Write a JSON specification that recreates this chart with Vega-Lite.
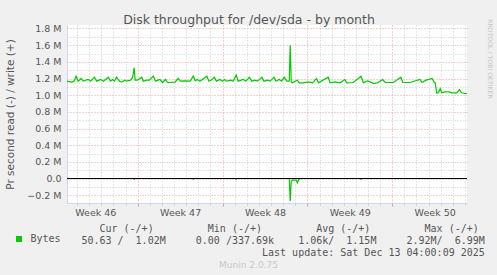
{
  "$schema": "https://vega.github.io/schema/vega-lite/v6.json",
  "width": 400,
  "height": 178,
  "autosize": "none",
  "padding": {"left": 67, "top": 25, "right": 30, "bottom": 72},
  "background": "#f0f0f0",
  "config": {
    "view": {"fill": "#ffffff", "stroke": null},
    "font": "DejaVu Sans",
    "axis": {"labelFont": "DejaVu Sans", "titleFont": "DejaVu Sans", "titleFontWeight": "normal", "labelColor": "#555555", "titleColor": "#555555"}
  },
  "data": {
    "values": [
      {"time": "2025-11-10T04:00", "dir": "write", "bytes": 1168000},
      {"time": "2025-11-10T13:00", "dir": "write", "bytes": 1156000},
      {"time": "2025-11-10T18:00", "dir": "write", "bytes": 1168000},
      {"time": "2025-11-10T22:00", "dir": "write", "bytes": 1228000},
      {"time": "2025-11-11T02:00", "dir": "write", "bytes": 1168000},
      {"time": "2025-11-11T08:00", "dir": "write", "bytes": 1200000},
      {"time": "2025-11-11T12:00", "dir": "write", "bytes": 1168000},
      {"time": "2025-11-11T22:00", "dir": "write", "bytes": 1188000},
      {"time": "2025-11-12T03:00", "dir": "write", "bytes": 1168000},
      {"time": "2025-11-12T10:00", "dir": "write", "bytes": 1216000},
      {"time": "2025-11-12T15:00", "dir": "write", "bytes": 1168000},
      {"time": "2025-11-12T23:00", "dir": "write", "bytes": 1188000},
      {"time": "2025-11-13T04:00", "dir": "write", "bytes": 1168000},
      {"time": "2025-11-13T14:00", "dir": "write", "bytes": 1216000},
      {"time": "2025-11-13T18:00", "dir": "write", "bytes": 1168000},
      {"time": "2025-11-13T22:00", "dir": "write", "bytes": 1188000},
      {"time": "2025-11-14T02:00", "dir": "write", "bytes": 1168000},
      {"time": "2025-11-14T06:00", "dir": "write", "bytes": 1216000},
      {"time": "2025-11-14T12:00", "dir": "write", "bytes": 1168000},
      {"time": "2025-11-14T16:00", "dir": "write", "bytes": 1156000},
      {"time": "2025-11-14T22:00", "dir": "write", "bytes": 1180000},
      {"time": "2025-11-15T02:00", "dir": "write", "bytes": 1168000},
      {"time": "2025-11-15T10:00", "dir": "write", "bytes": 1180000},
      {"time": "2025-11-15T14:00", "dir": "write", "bytes": 1216000},
      {"time": "2025-11-15T17:00", "dir": "write", "bytes": 1328000},
      {"time": "2025-11-15T19:00", "dir": "write", "bytes": 1180000},
      {"time": "2025-11-15T23:00", "dir": "write", "bytes": 1180000},
      {"time": "2025-11-16T08:00", "dir": "write", "bytes": 1216000},
      {"time": "2025-11-16T11:00", "dir": "write", "bytes": 1168000},
      {"time": "2025-11-16T18:00", "dir": "write", "bytes": 1180000},
      {"time": "2025-11-16T23:00", "dir": "write", "bytes": 1180000},
      {"time": "2025-11-17T07:00", "dir": "write", "bytes": 1228000},
      {"time": "2025-11-17T11:00", "dir": "write", "bytes": 1168000},
      {"time": "2025-11-17T20:00", "dir": "write", "bytes": 1188000},
      {"time": "2025-11-18T01:00", "dir": "write", "bytes": 1152000},
      {"time": "2025-11-18T07:00", "dir": "write", "bytes": 1188000},
      {"time": "2025-11-18T11:00", "dir": "write", "bytes": 1152000},
      {"time": "2025-11-18T16:00", "dir": "write", "bytes": 1152000},
      {"time": "2025-11-19T02:00", "dir": "write", "bytes": 1156000},
      {"time": "2025-11-19T08:00", "dir": "write", "bytes": 1200000},
      {"time": "2025-11-19T13:00", "dir": "write", "bytes": 1168000},
      {"time": "2025-11-19T20:00", "dir": "write", "bytes": 1172000},
      {"time": "2025-11-20T08:00", "dir": "write", "bytes": 1168000},
      {"time": "2025-11-20T14:00", "dir": "write", "bytes": 1228000},
      {"time": "2025-11-20T18:00", "dir": "write", "bytes": 1172000},
      {"time": "2025-11-20T22:00", "dir": "write", "bytes": 1188000},
      {"time": "2025-11-21T03:00", "dir": "write", "bytes": 1168000},
      {"time": "2025-11-21T17:00", "dir": "write", "bytes": 1228000},
      {"time": "2025-11-21T21:00", "dir": "write", "bytes": 1168000},
      {"time": "2025-11-22T01:00", "dir": "write", "bytes": 1180000},
      {"time": "2025-11-22T08:00", "dir": "write", "bytes": 1216000},
      {"time": "2025-11-22T12:00", "dir": "write", "bytes": 1168000},
      {"time": "2025-11-22T19:00", "dir": "write", "bytes": 1188000},
      {"time": "2025-11-23T00:00", "dir": "write", "bytes": 1168000},
      {"time": "2025-11-23T04:00", "dir": "write", "bytes": 1188000},
      {"time": "2025-11-23T08:00", "dir": "write", "bytes": 1168000},
      {"time": "2025-11-23T17:00", "dir": "write", "bytes": 1180000},
      {"time": "2025-11-23T21:00", "dir": "write", "bytes": 1168000},
      {"time": "2025-11-24T03:00", "dir": "write", "bytes": 1240000},
      {"time": "2025-11-24T07:00", "dir": "write", "bytes": 1168000},
      {"time": "2025-11-24T17:00", "dir": "write", "bytes": 1188000},
      {"time": "2025-11-24T22:00", "dir": "write", "bytes": 1168000},
      {"time": "2025-11-25T05:00", "dir": "write", "bytes": 1216000},
      {"time": "2025-11-25T10:00", "dir": "write", "bytes": 1168000},
      {"time": "2025-11-25T16:00", "dir": "write", "bytes": 1180000},
      {"time": "2025-11-25T21:00", "dir": "write", "bytes": 1168000},
      {"time": "2025-11-26T06:00", "dir": "write", "bytes": 1216000},
      {"time": "2025-11-26T10:00", "dir": "write", "bytes": 1168000},
      {"time": "2025-11-26T17:00", "dir": "write", "bytes": 1180000},
      {"time": "2025-11-26T22:00", "dir": "write", "bytes": 1168000},
      {"time": "2025-11-27T06:00", "dir": "write", "bytes": 1216000},
      {"time": "2025-11-27T10:00", "dir": "write", "bytes": 1168000},
      {"time": "2025-11-27T16:00", "dir": "write", "bytes": 1188000},
      {"time": "2025-11-27T21:00", "dir": "write", "bytes": 1168000},
      {"time": "2025-11-28T02:00", "dir": "write", "bytes": 1216000},
      {"time": "2025-11-28T07:00", "dir": "write", "bytes": 1168000},
      {"time": "2025-11-28T12:00", "dir": "write", "bytes": 1168000},
      {"time": "2025-11-28T14:00", "dir": "write", "bytes": 1600000},
      {"time": "2025-11-28T16:00", "dir": "write", "bytes": 1160000},
      {"time": "2025-11-28T18:00", "dir": "write", "bytes": 1148000},
      {"time": "2025-11-29T04:00", "dir": "write", "bytes": 1180000},
      {"time": "2025-11-29T08:00", "dir": "write", "bytes": 1148000},
      {"time": "2025-11-29T16:00", "dir": "write", "bytes": 1148000},
      {"time": "2025-11-30T02:00", "dir": "write", "bytes": 1160000},
      {"time": "2025-11-30T10:00", "dir": "write", "bytes": 1148000},
      {"time": "2025-11-30T18:00", "dir": "write", "bytes": 1200000},
      {"time": "2025-11-30T22:00", "dir": "write", "bytes": 1148000},
      {"time": "2025-12-01T17:00", "dir": "write", "bytes": 1216000},
      {"time": "2025-12-01T21:00", "dir": "write", "bytes": 1148000},
      {"time": "2025-12-02T07:00", "dir": "write", "bytes": 1160000},
      {"time": "2025-12-02T17:00", "dir": "write", "bytes": 1148000},
      {"time": "2025-12-03T02:00", "dir": "write", "bytes": 1188000},
      {"time": "2025-12-03T06:00", "dir": "write", "bytes": 1148000},
      {"time": "2025-12-03T19:00", "dir": "write", "bytes": 1152000},
      {"time": "2025-12-04T10:00", "dir": "write", "bytes": 1228000},
      {"time": "2025-12-04T15:00", "dir": "write", "bytes": 1148000},
      {"time": "2025-12-04T23:00", "dir": "write", "bytes": 1172000},
      {"time": "2025-12-05T12:00", "dir": "write", "bytes": 1140000},
      {"time": "2025-12-05T20:00", "dir": "write", "bytes": 1152000},
      {"time": "2025-12-06T05:00", "dir": "write", "bytes": 1188000},
      {"time": "2025-12-06T10:00", "dir": "write", "bytes": 1152000},
      {"time": "2025-12-07T02:00", "dir": "write", "bytes": 1152000},
      {"time": "2025-12-07T17:00", "dir": "write", "bytes": 1216000},
      {"time": "2025-12-07T21:00", "dir": "write", "bytes": 1152000},
      {"time": "2025-12-08T11:00", "dir": "write", "bytes": 1152000},
      {"time": "2025-12-09T07:00", "dir": "write", "bytes": 1188000},
      {"time": "2025-12-09T11:00", "dir": "write", "bytes": 1152000},
      {"time": "2025-12-09T19:00", "dir": "write", "bytes": 1180000},
      {"time": "2025-12-10T07:00", "dir": "write", "bytes": 1200000},
      {"time": "2025-12-10T11:00", "dir": "write", "bytes": 1152000},
      {"time": "2025-12-10T13:00", "dir": "write", "bytes": 1152000},
      {"time": "2025-12-10T16:00", "dir": "write", "bytes": 1028000},
      {"time": "2025-12-10T19:00", "dir": "write", "bytes": 1028000},
      {"time": "2025-12-10T23:00", "dir": "write", "bytes": 1080000},
      {"time": "2025-12-11T02:00", "dir": "write", "bytes": 1028000},
      {"time": "2025-12-11T08:00", "dir": "write", "bytes": 1040000},
      {"time": "2025-12-11T17:00", "dir": "write", "bytes": 1040000},
      {"time": "2025-12-11T22:00", "dir": "write", "bytes": 1028000},
      {"time": "2025-12-12T08:00", "dir": "write", "bytes": 1028000},
      {"time": "2025-12-12T13:00", "dir": "write", "bytes": 1068000},
      {"time": "2025-12-12T17:00", "dir": "write", "bytes": 1028000},
      {"time": "2025-12-13T00:00", "dir": "write", "bytes": 1020000},
      {"time": "2025-12-13T04:00", "dir": "write", "bytes": 1020000},
      {"time": "2025-11-10T04:00", "dir": "read", "bytes": 0},
      {"time": "2025-11-15T15:00", "dir": "read", "bytes": 0},
      {"time": "2025-11-15T17:00", "dir": "read", "bytes": -10000},
      {"time": "2025-11-15T19:00", "dir": "read", "bytes": 0},
      {"time": "2025-11-20T12:00", "dir": "read", "bytes": 0},
      {"time": "2025-11-20T14:00", "dir": "read", "bytes": -8000},
      {"time": "2025-11-20T16:00", "dir": "read", "bytes": 0},
      {"time": "2025-11-24T01:00", "dir": "read", "bytes": 0},
      {"time": "2025-11-24T03:00", "dir": "read", "bytes": -8000},
      {"time": "2025-11-24T05:00", "dir": "read", "bytes": 0},
      {"time": "2025-11-28T12:00", "dir": "read", "bytes": 0},
      {"time": "2025-11-28T14:00", "dir": "read", "bytes": -270000},
      {"time": "2025-11-28T16:00", "dir": "read", "bytes": -30000},
      {"time": "2025-11-28T18:00", "dir": "read", "bytes": -20000},
      {"time": "2025-11-29T02:00", "dir": "read", "bytes": -20000},
      {"time": "2025-11-29T04:00", "dir": "read", "bytes": -53000},
      {"time": "2025-11-29T07:00", "dir": "read", "bytes": -12000},
      {"time": "2025-11-29T10:00", "dir": "read", "bytes": 0},
      {"time": "2025-12-04T08:00", "dir": "read", "bytes": 0},
      {"time": "2025-12-04T10:00", "dir": "read", "bytes": -10000},
      {"time": "2025-12-04T12:00", "dir": "read", "bytes": 0},
      {"time": "2025-12-13T04:00", "dir": "read", "bytes": 0}
    ]
  },
  "layer": [
    {
      "transform": [{"filter": "datum.dir == 'write'"}],
      "mark": {"type": "line", "strokeOpacity": 0},
      "encoding": {
        "x": {
          "field": "time", "type": "temporal",
          "scale": {"domain": [{"year": 2025, "month": 11, "date": 10, "hours": 4}, {"year": 2025, "month": 12, "date": 13, "hours": 4}]},
          "axis": {
            "orient": "bottom",
            "values": [
              {"year": 2025, "month": 11, "date": 11}, {"year": 2025, "month": 11, "date": 12}, {"year": 2025, "month": 11, "date": 13}, {"year": 2025, "month": 11, "date": 14}, {"year": 2025, "month": 11, "date": 15},
              {"year": 2025, "month": 11, "date": 17}, {"year": 2025, "month": 11, "date": 18}, {"year": 2025, "month": 11, "date": 19}, {"year": 2025, "month": 11, "date": 20}, {"year": 2025, "month": 11, "date": 21}, {"year": 2025, "month": 11, "date": 22},
              {"year": 2025, "month": 11, "date": 24}, {"year": 2025, "month": 11, "date": 25}, {"year": 2025, "month": 11, "date": 26}, {"year": 2025, "month": 11, "date": 27}, {"year": 2025, "month": 11, "date": 28}, {"year": 2025, "month": 11, "date": 29},
              {"year": 2025, "month": 12, "date": 1}, {"year": 2025, "month": 12, "date": 2}, {"year": 2025, "month": 12, "date": 3}, {"year": 2025, "month": 12, "date": 4}, {"year": 2025, "month": 12, "date": 5}, {"year": 2025, "month": 12, "date": 6},
              {"year": 2025, "month": 12, "date": 8}, {"year": 2025, "month": 12, "date": 9}, {"year": 2025, "month": 12, "date": 10}, {"year": 2025, "month": 12, "date": 11}, {"year": 2025, "month": 12, "date": 12}, {"year": 2025, "month": 12, "date": 13}
            ],
            "grid": true, "gridColor": "#cccccc", "gridDash": [1, 2], "gridWidth": 1,
            "labels": false, "ticks": true, "tickColor": "#cccccc", "tickSize": 2, "domain": false,
            "title": "Munin 2.0.75", "titleX": 181, "titleY": 64, "titleFontSize": 9, "titleColor": "#c8c8c8",
            "titleAlign": "center", "titleBaseline": "alphabetic", "titleAngle": 0
          }
        },
        "y": {
          "field": "bytes", "type": "quantitative",
          "scale": {"domain": [-294000, 1842000], "nice": false, "zero": false},
          "axis": {
            "orient": "left",
            "values": [-100000, 100000, 300000, 500000, 700000, 900000, 1100000, 1300000, 1500000, 1700000],
            "grid": true, "gridColor": "#cccccc", "gridDash": [1, 2], "gridWidth": 1,
            "labels": false, "ticks": false, "domain": false, "title": null
          }
        }
      }
    },
    {
      "transform": [{"filter": "datum.dir == 'write'"}],
      "mark": {"type": "line", "strokeWidth": 1.2},
      "encoding": {
        "x": {
          "field": "time", "type": "temporal",
          "axis": {
            "orient": "bottom",
            "values": [{"year": 2025, "month": 11, "date": 16}, {"year": 2025, "month": 11, "date": 23}, {"year": 2025, "month": 11, "date": 30}, {"year": 2025, "month": 12, "date": 7}],
            "grid": true, "gridColor": "#e5a3a3", "gridDash": [1, 2], "gridWidth": 1,
            "labels": false, "ticks": true, "tickColor": "#e59a9a", "tickSize": 3,
            "domain": true, "domainColor": "#cfd6f8", "domainWidth": 1,
            "title": "Disk throughput for /dev/sda - by month", "titleX": 181.5, "titleY": -179.5,
            "titleFontSize": 12.5, "titleColor": "#555555", "titleAlign": "center", "titleBaseline": "alphabetic", "titleAngle": 0
          }
        },
        "y": {
          "field": "bytes", "type": "quantitative",
          "axis": {
            "orient": "right", "labels": false, "ticks": false, "grid": false, "domain": false,
            "title": "RRDTOOL / TOBI OETIKER", "titleAngle": 90, "titleX": 22, "titleY": 33.5,
            "titleFontSize": 6.2, "titleColor": "#c8c8c8", "titleAlign": "center", "titleBaseline": "middle"
          }
        },
        "color": {
          "datum": "Bytes",
          "scale": {"range": ["#00cc00"]},
          "legend": {
            "orient": "none", "legendX": -53, "legendY": 209, "title": null, "padding": 0,
            "symbolType": "square", "symbolSize": 36, "symbolStrokeWidth": 0,
            "labelFont": "DejaVu Sans Mono", "labelFontSize": 10, "labelColor": "#555555", "labelOffset": 6.5,
            "encode": {"symbols": {"update": {"fill": {"value": "#00cc00"}, "strokeWidth": {"value": 0}}}}
          }
        }
      }
    },
    {
      "transform": [{"filter": "datum.dir == 'read'"}],
      "mark": {"type": "line", "strokeWidth": 1.2},
      "encoding": {
        "x": {
          "field": "time", "type": "temporal",
          "axis": {
            "orient": "bottom",
            "values": [{"year": 2025, "month": 11, "date": 12, "hours": 12}, {"year": 2025, "month": 11, "date": 19, "hours": 12}, {"year": 2025, "month": 11, "date": 26, "hours": 12}, {"year": 2025, "month": 12, "date": 3, "hours": 12}, {"year": 2025, "month": 12, "date": 10, "hours": 12}],
            "labelExpr": "'Week ' + timeFormat(datum.value, '%V')",
            "grid": false, "ticks": false, "domain": false,
            "labelFontSize": 9.5, "labelPadding": 4, "labelFlush": false, "labelOverlap": false,
            "title": [
              "\u200b\u00a0\u00a0\u00a0Cur\u00a0(-/+)\u00a0\u00a0\u00a0\u00a0\u00a0\u00a0\u00a0\u00a0\u00a0Min\u00a0(-/+)\u00a0\u00a0\u00a0\u00a0\u00a0\u00a0\u00a0\u00a0\u00a0Avg\u00a0(-/+)\u00a0\u00a0\u00a0\u00a0\u00a0\u00a0\u00a0\u00a0\u00a0Max\u00a0(-/+)",
              "50.63\u00a0/\u00a0\u00a01.02M\u00a0\u00a0\u00a0\u00a0\u00a00.00\u00a0/337.69k\u00a0\u00a0\u00a0\u00a01.06k/\u00a0\u00a01.15M\u00a0\u00a0\u00a0\u00a0\u00a02.92M/\u00a0\u00a06.99M",
              "\u200b\u00a0\u00a0\u00a0\u00a0\u00a0\u00a0\u00a0\u00a0\u00a0\u00a0\u00a0\u00a0\u00a0\u00a0\u00a0\u00a0\u00a0\u00a0\u00a0\u00a0\u00a0\u00a0\u00a0\u00a0\u00a0\u00a0\u00a0\u00a0\u00a0\u00a0Last\u00a0update:\u00a0Sat\u00a0Dec\u00a013\u00a004:00:09\u00a02025"
            ],
            "titleX": 13.9, "titleY": 28.5, "titleAlign": "left", "titleBaseline": "alphabetic", "titleAngle": 0,
            "titleFont": "DejaVu Sans Mono", "titleFontSize": 10, "titleLineHeight": 12
          }
        },
        "y": {"field": "bytes", "type": "quantitative", "axis": null},
        "color": {"datum": "Bytes"}
      }
    },
    {
      "mark": {"type": "rule", "color": "#000000", "strokeWidth": 1},
      "encoding": {
        "y": {
          "datum": 0, "type": "quantitative",
          "axis": {
            "orient": "left",
            "values": [-200000, 0, 200000, 400000, 600000, 800000, 1000000, 1200000, 1400000, 1600000, 1800000],
            "labelExpr": "datum.value == 0 ? '0.0' : format(datum.value / 1000000, '.1f') + ' M'",
            "grid": true, "gridColor": "#e5a3a3", "gridDash": [1, 2], "gridWidth": 1,
            "ticks": false, "labelPadding": 6, "labelFontSize": 9.5,
            "domain": true, "domainColor": "#cfd6f8", "domainWidth": 1,
            "title": "Pr second read (-) / write (+)", "titleX": -57, "titleY": 89, "titleAngle": 270,
            "titleFontSize": 10.5, "titleAlign": "center", "titleBaseline": "middle"
          }
        }
      }
    }
  ],
  "resolve": {"axis": {"x": "independent", "y": "independent"}}
}
